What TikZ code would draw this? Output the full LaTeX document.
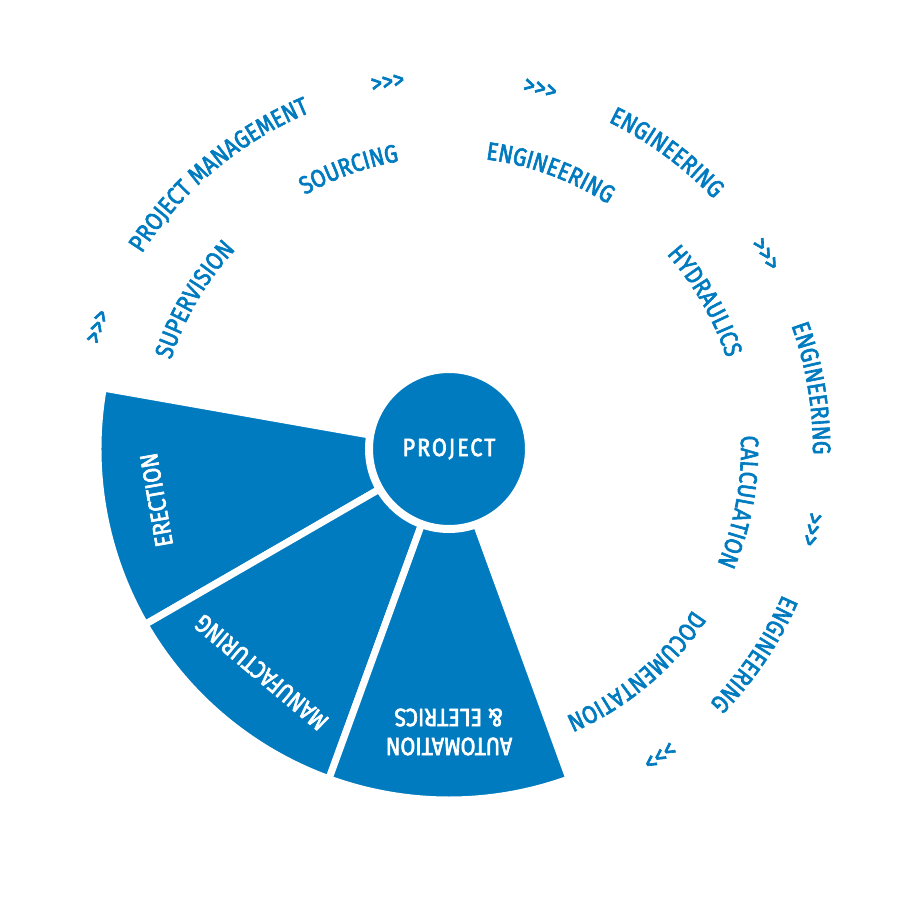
\documentclass[tikz,border=0pt]{standalone}
\usepackage{fontspec}
\setmainfont[FakeStretch=0.86, FakeBold=2.5]{Fira Sans}
\usepackage{tikz}
\usetikzlibrary{decorations.text}

\definecolor{brandblue}{RGB}{0,123,192}
\newcommand{\ringfont}{\fontsize{25}{27}\selectfont\addfontfeature{LetterSpace=2}\color{brandblue}}
% text bent along a clockwise arc: radius, middle angle, text
\newcommand{\ringlabel}[3]{%
  \path[decorate, decoration={text along path, text align=center,
      text={|\ringfont|#3}}]
    (#2+40:#1) arc[start angle=#2+40, end angle=#2-40, radius=#1];}

\tikzset{
  sector/.style={fill=brandblue, draw=white, line width=7pt},
  hub/.style={circle, fill=brandblue, draw=white, line width=8pt,
    minimum size=160pt, inner sep=0pt, text=white,
    font=\fontsize{25}{27}\selectfont\addfontfeature{LetterSpace=8}},
  inlabel/.style={text=white, align=center, inner sep=0pt,
    font=\fontsize{25}{28}\selectfont},
  chevrons/.style={text=brandblue, inner sep=0pt,
    font=\fontsize{26}{26}\selectfont}
}

\begin{document}
\begin{tikzpicture}[x=1pt, y=1pt]
      \useasboundingbox (-449,-451) rectangle (451,449);
      % Define sectors
      \foreach \a in {170,210,250}
        \filldraw[sector] (0,0) -- (\a:351) arc[start angle=\a, end angle=\a+40, radius=351] -- cycle;
      \node[hub] (project) at (0,0) {PROJECT};
      \node[inlabel, rotate=100] (erection) at (189.9:297) {ERECTION};
      \node[inlabel, rotate=140] (manufacturing) at (230:292) {MANUFACTURING};
      \node[inlabel, rotate=180] (automation) at (270:283) {AUTOMATION\\[1pt]\& ELETRICS};
      % Inner ring
      \ringlabel{292}{149.6}{SUPERVISION}
      \ringlabel{292}{109.7}{SOURCING}
      \ringlabel{292}{69.9}{ENGINEERING}
      \ringlabel{292}{30}{HYDRAULICS}
      \ringlabel{292}{-10.3}{CALCULATION}
      \ringlabel{292}{-49.9}{DOCUMENTATION}
      % Outer ring
      \ringlabel{364}{130}{PROJECT MANAGEMENT}
      \ringlabel{364}{53.7}{ENGINEERING}
      \ringlabel{364}{9.5}{ENGINEERING}
      \ringlabel{364}{-33.9}{ENGINEERING}
      % Chevrons
      \foreach \a/\n in {160.8/a, 99.5/b, 75.8/c, 31.6/d, -12.5/e, -55.5/f}
        \node[chevrons, rotate=\a-90] (chev\n) at (\a:371) {>{}>{}>};
    \end{tikzpicture}
\end{document}
